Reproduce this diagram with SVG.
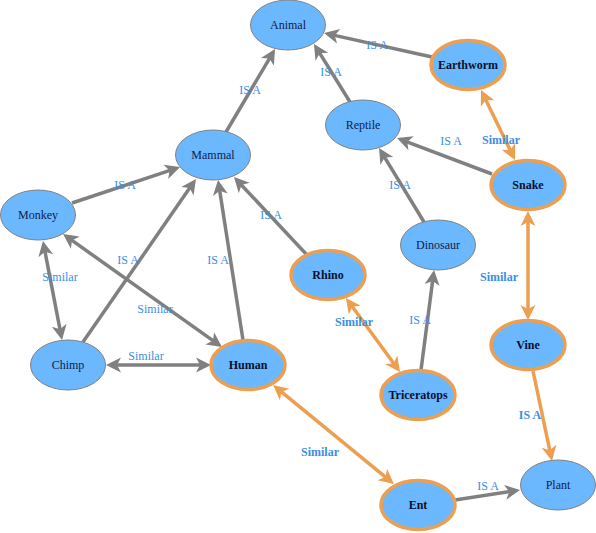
<svg xmlns="http://www.w3.org/2000/svg" width="596" height="533" viewBox="0 0 596 533">
<style>
.n ellipse{fill:#6cb8ff;stroke:#808080;stroke-width:1}
.o ellipse{fill:#6cb8ff;stroke:#ec9f50;stroke-width:3.5}
.n text,.o text{font-family:"Liberation Serif",serif;font-size:12px;text-anchor:middle;dominant-baseline:central;fill:#0f1c4d}
.o text{font-weight:bold;fill:#0a0f2a}
.g{stroke:#808080;stroke-width:3.5;fill:none}
.og{stroke:#ec9f50;stroke-width:3.5;fill:none}
.l{font-family:"Liberation Serif",serif;font-size:12px;text-anchor:middle;dominant-baseline:central;fill:#3a8ee6}
.b{font-weight:bold}
</style>
<defs>
<marker id="ag" markerUnits="userSpaceOnUse" markerWidth="18" markerHeight="18" viewBox="0 -9 18 18" refX="10" refY="0" orient="auto-start-reverse" overflow="visible"><path d="M0,-7.5 L15,0 L0,7.5 L4,0 Z" fill="#808080"/></marker>
<marker id="ao" markerUnits="userSpaceOnUse" markerWidth="18" markerHeight="18" viewBox="0 -9 18 18" refX="10" refY="0" orient="auto-start-reverse" overflow="visible"><path d="M0,-7.5 L15,0 L0,7.5 L4,0 Z" fill="#ec9f50"/></marker>
</defs>
<g id="edges">
<line class="g" x1="226" y1="132" x2="272.5" y2="53.3" marker-end="url(#ag)"/>
<line class="g" x1="350" y1="102" x2="316.6" y2="48.2" marker-end="url(#ag)"/>
<line class="g" x1="432" y1="57" x2="328.9" y2="34.1" marker-end="url(#ag)"/>
<line class="g" x1="492" y1="174" x2="401.7" y2="139.8" marker-end="url(#ag)"/>
<line class="og" x1="483.2" y1="94.5" x2="512.8" y2="155.5" marker-start="url(#ao)" marker-end="url(#ao)"/>
<line class="g" x1="72" y1="203" x2="175.3" y2="168.6" marker-end="url(#ag)"/>
<line class="g" x1="83" y1="342" x2="193.1" y2="183.1" marker-end="url(#ag)"/>
<line class="g" x1="243" y1="340" x2="218.8" y2="184.9" marker-end="url(#ag)"/>
<line class="g" x1="307" y1="255" x2="237.4" y2="180.7" marker-end="url(#ag)"/>
<line class="g" x1="424" y1="222" x2="381.6" y2="152.3" marker-end="url(#ag)"/>
<line class="g" x1="43.9" y1="245.9" x2="61.1" y2="335.1" marker-start="url(#ag)" marker-end="url(#ag)"/>
<line class="g" x1="67.1" y1="236.9" x2="217.9" y2="344.1" marker-start="url(#ag)" marker-end="url(#ag)"/>
<line class="g" x1="111" y1="365" x2="206" y2="365" marker-start="url(#ag)" marker-end="url(#ag)"/>
<line class="og" x1="348.9" y1="302" x2="397.1" y2="368" marker-start="url(#ao)" marker-end="url(#ao)"/>
<line class="g" x1="421" y1="370" x2="433.4" y2="275" marker-end="url(#ag)"/>
<line class="og" x1="528" y1="216" x2="528" y2="315" marker-start="url(#ao)" marker-end="url(#ao)"/>
<line class="og" x1="533" y1="371" x2="551" y2="456.1" marker-end="url(#ao)"/>
<line class="og" x1="276.9" y1="388.2" x2="390.1" y2="480.8" marker-start="url(#ao)" marker-end="url(#ao)"/>
<line class="g" x1="455" y1="500" x2="515.1" y2="490.8" marker-end="url(#ag)"/>
<g id="edge-labels">
<text class="l" x="250" y="90">IS A</text>
<text class="l" x="331" y="72">IS A</text>
<text class="l" x="377" y="45">IS A</text>
<text class="l" x="451" y="141">IS A</text>
<text class="l b" x="501" y="140">Similar</text>
<text class="l" x="125" y="185">IS A</text>
<text class="l" x="128" y="260">IS A</text>
<text class="l" x="218" y="260">IS A</text>
<text class="l" x="271" y="215">IS A</text>
<text class="l" x="400" y="185">IS A</text>
<text class="l" x="60" y="277">Similar</text>
<text class="l" x="155" y="309">Similar</text>
<text class="l" x="146" y="356">Similar</text>
<text class="l b" x="354" y="322">Similar</text>
<text class="l" x="420" y="320">IS A</text>
<text class="l b" x="499" y="277">Similar</text>
<text class="l b" x="530" y="415">IS A</text>
<text class="l b" x="320" y="452">Similar</text>
<text class="l" x="488" y="486">IS A</text>
</g>
</g>
<g id="Animal" class="n"><ellipse cx="288" cy="25" rx="37.5" ry="25"/><text x="288" y="25">Animal</text></g>
<g id="Earthworm" class="o"><ellipse cx="468" cy="65" rx="37" ry="24.5"/><text x="468" y="65">Earthworm</text></g>
<g id="Reptile" class="n"><ellipse cx="363" cy="125" rx="37.5" ry="25"/><text x="363" y="125">Reptile</text></g>
<g id="Mammal" class="n"><ellipse cx="213" cy="155" rx="37.5" ry="25"/><text x="213" y="155">Mammal</text></g>
<g id="Monkey" class="n"><ellipse cx="38" cy="215" rx="37.5" ry="25"/><text x="38" y="215">Monkey</text></g>
<g id="Snake" class="o"><ellipse cx="528" cy="185" rx="37" ry="24.5"/><text x="528" y="185">Snake</text></g>
<g id="Dinosaur" class="n"><ellipse cx="438" cy="245" rx="37.5" ry="25"/><text x="438" y="245">Dinosaur</text></g>
<g id="Rhino" class="o"><ellipse cx="328" cy="275" rx="37" ry="24.5"/><text x="328" y="275">Rhino</text></g>
<g id="Chimp" class="n"><ellipse cx="68" cy="365" rx="37.5" ry="25"/><text x="68" y="365">Chimp</text></g>
<g id="Human" class="o"><ellipse cx="248" cy="365" rx="37" ry="24.5"/><text x="248" y="365">Human</text></g>
<g id="Vine" class="o"><ellipse cx="528" cy="345" rx="37" ry="24.5"/><text x="528" y="345">Vine</text></g>
<g id="Triceratops" class="o"><ellipse cx="418" cy="395" rx="37" ry="24.5"/><text x="418" y="395">Triceratops</text></g>
<g id="Plant" class="n"><ellipse cx="558" cy="485" rx="37.5" ry="25"/><text x="558" y="485">Plant</text></g>
<g id="Ent" class="o"><ellipse cx="418" cy="505" rx="37" ry="24.5"/><text x="418" y="505">Ent</text></g>
</svg>
